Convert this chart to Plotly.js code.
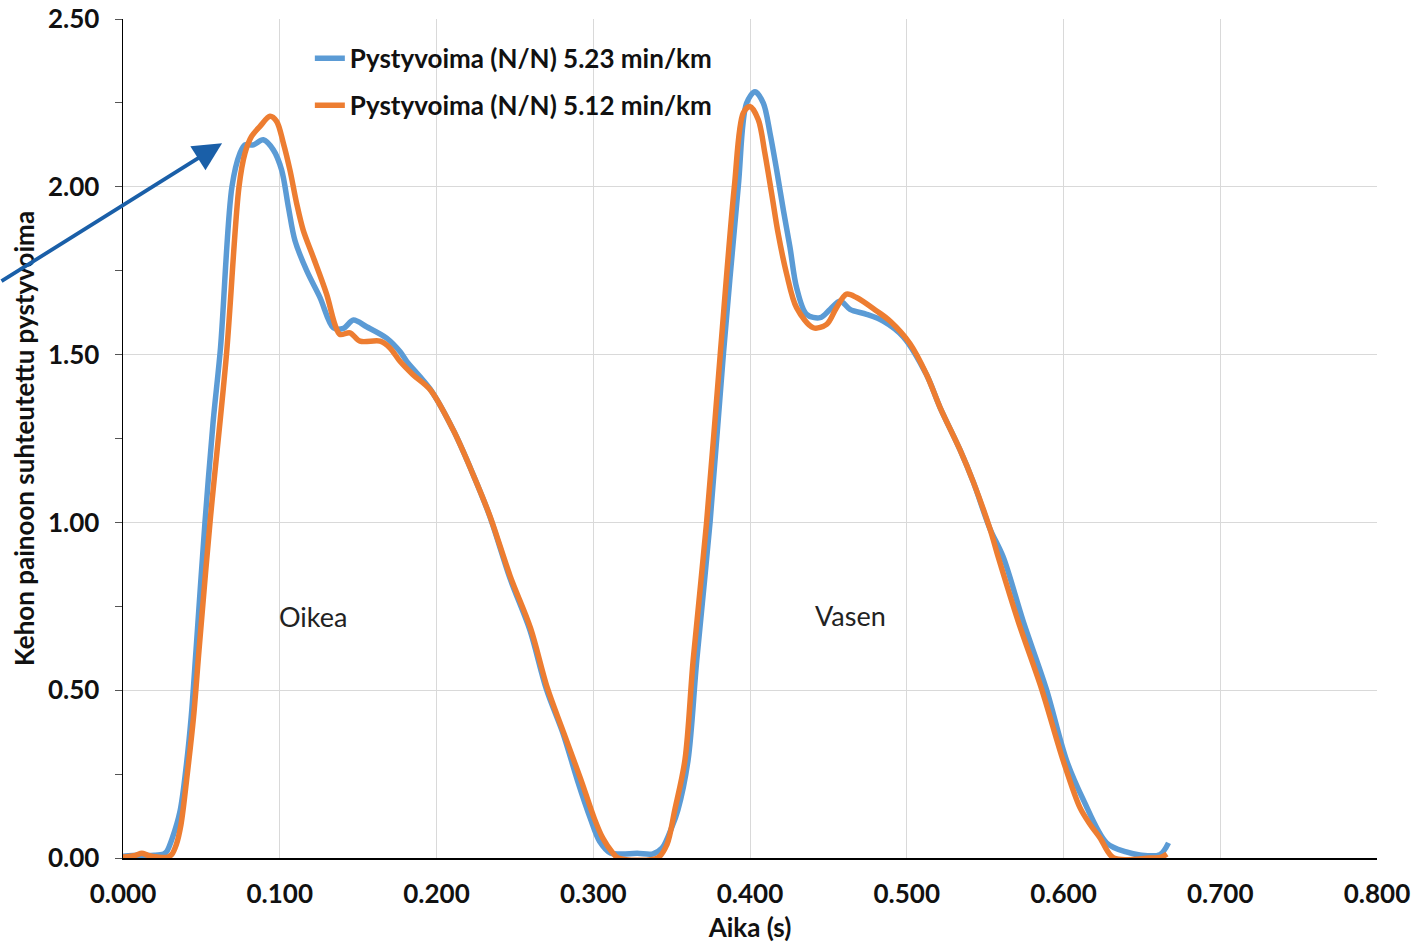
<!DOCTYPE html>
<html>
<head>
<meta charset="utf-8">
<script src="https://cdn.plot.ly/plotly-3.0.1.min.js"></script>
<style>html,body{margin:0;padding:0;background:#fff;}#chart{width:1426px;height:947px;}</style>
</head>
<body>
<div id="chart"></div>
<script>
// Series 1: Pystyvoima (N/N) 5.23 min/km
var timeA = [0.000,0.010,0.020,0.026,0.028,0.0315,0.0364,0.0405,0.0435,0.0466,0.0523,0.0575,0.0622,0.0695,0.0746,0.0778,0.0831,0.0895,0.0959,0.1012,0.1055,0.1097,0.1172,0.1257,0.1342,0.1406,0.1470,0.1554,0.1682,0.1767,0.181,0.196,0.2107,0.2235,0.234,0.2469,0.2596,0.2701,0.2808,0.2900,0.2980,0.3040,0.3110,0.3180,0.3280,0.3380,0.3440,0.3500,0.3540,0.3605,0.3660,0.3745,0.3830,0.3925,0.3978,0.4032,0.4085,0.4128,0.4170,0.4213,0.4255,0.4297,0.4361,0.4447,0.4511,0.4575,0.4638,0.4744,0.4850,0.4978,0.5127,0.5212,0.5340,0.5425,0.5530,0.5616,0.5743,0.5890,0.6020,0.6127,0.6275,0.6400,0.6488,0.6615,0.6670];
var forceA = [0.005,0.008,0.008,0.012,0.02,0.06,0.14,0.28,0.42,0.62,1.00,1.30,1.52,2.00,2.10,2.125,2.125,2.14,2.11,2.05,1.94,1.84,1.75,1.67,1.58,1.578,1.603,1.583,1.549,1.509,1.48,1.397,1.275,1.141,1.018,0.833,0.679,0.503,0.37,0.23,0.12,0.05,0.015,0.012,0.014,0.012,0.03,0.09,0.143,0.292,0.588,1.00,1.50,2.00,2.249,2.283,2.249,2.159,2.05,1.93,1.82,1.70,1.62,1.61,1.635,1.66,1.635,1.62,1.60,1.553,1.439,1.343,1.216,1.12,0.982,0.896,0.705,0.504,0.29,0.173,0.045,0.018,0.009,0.01,0.045];

// Series 2: Pystyvoima (N/N) 5.12 min/km
var timeB = [0.000,0.008,0.012,0.016,0.022,0.028,0.031,0.034,0.037,0.041,0.045,0.0485,0.0555,0.066,0.074,0.0778,0.082,0.0874,0.0938,0.098,0.1023,0.1065,0.1108,0.115,0.1214,0.1299,0.1352,0.1384,0.1448,0.1512,0.164,0.1703,0.1767,0.185,0.196,0.2107,0.2235,0.234,0.247,0.260,0.2705,0.281,0.292,0.3005,0.306,0.3125,0.316,0.341,0.347,0.352,0.3585,0.3637,0.3723,0.381,0.390,0.3957,0.400,0.4053,0.4095,0.4138,0.418,0.4234,0.4297,0.4404,0.4489,0.4552,0.4616,0.468,0.4808,0.4893,0.502,0.5127,0.5212,0.534,0.5425,0.553,0.5584,0.5711,0.586,0.5998,0.6105,0.617,0.6233,0.632,0.655,0.662,0.666];
var forceB = [0.003,0.008,0.014,0.008,0.003,0.002,0.01,0.04,0.10,0.25,0.42,0.62,1.00,1.50,2.00,2.10,2.15,2.18,2.21,2.195,2.13,2.05,1.95,1.87,1.79,1.68,1.59,1.56,1.565,1.54,1.54,1.52,1.48,1.44,1.395,1.275,1.141,1.02,0.84,0.685,0.51,0.375,0.235,0.12,0.06,0.015,0.0,0.0,0.04,0.143,0.292,0.588,1.00,1.50,2.00,2.22,2.239,2.20,2.10,1.98,1.86,1.74,1.64,1.58,1.59,1.64,1.68,1.67,1.63,1.60,1.533,1.44,1.343,1.216,1.12,0.982,0.896,0.705,0.504,0.29,0.15,0.10,0.06,0.0,0.0,0.002,0.012];

var seriesNames = ["Pystyvoima (N/N) 5.23 min/km", "Pystyvoima (N/N) 5.12 min/km"];
var xTickVals = [0,0.1,0.2,0.3,0.4,0.5,0.6,0.7,0.8];
var xTickText = ["0.000","0.100","0.200","0.300","0.400","0.500","0.600","0.700","0.800"];
var yTickVals = [0,0.5,1.0,1.5,2.0,2.5];
var yTickText = ["0.00","0.50","1.00","1.50","2.00","2.50"];
var labelTexts = ["Oikea","Vasen"];
var labelX = [0.1212,0.4638];
var labelY = [0.719,0.722];
var arrowTarget = [0.0632, 2.13];

var FONT = "Lato, 'Open Sans', sans-serif";

var traces = [
  {x: timeA, y: forceA, name: seriesNames[0], type: "scatter", mode: "lines", legendgroup: "a",
   line: {color: "#5B9BD5", width: 5.5, shape: "spline", smoothing: 0.9}},
  {x: timeB, y: forceB, name: seriesNames[1], type: "scatter", mode: "lines", legendgroup: "b",
   line: {color: "#ED7D31", width: 5.5, shape: "spline", smoothing: 0.9}}
];

var annotations = labelTexts.map(function(t,i){
  return {x: labelX[i], y: labelY[i], xref: "x", yref: "y", text: t, showarrow: false,
          font: {family: FONT, size: 27, color: "#222"}};
});
annotations.push({
  x: arrowTarget[0], y: arrowTarget[1], xref: "x", yref: "y", text: "",
  showarrow: true, ax: -240, ay: 139, arrowcolor: "#1a5fa8", arrowwidth: 3.8,
  arrowhead: 2, arrowsize: 1.5, standoff: 0
});

var layout = {
  width: 1426, height: 947,
  paper_bgcolor: "#ffffff", plot_bgcolor: "#ffffff",
  margin: {l: 123, r: 49, t: 19, b: 89},
  font: {family: FONT, color: "#111"},
  showlegend: true,
  legend: {x: 0.149, y: 0.981, xanchor: "left", yanchor: "top", bgcolor: "rgba(0,0,0,0)",
           font: {family: FONT, size: 26, color: "#111", weight: "bold"}, tracegroupgap: 10},
  xaxis: {range: [0, 0.8], tickvals: xTickVals, ticktext: xTickText, showgrid: true,
          gridcolor: "#d9d9d9", gridwidth: 1, showline: true, linecolor: "#000", linewidth: 1.5,
          ticks: "", zeroline: false, ticklabelstandoff: 12,
          tickfont: {family: FONT, size: 26, color: "#111", weight: "bold"},
          title: {text: "Aika (s)", font: {family: FONT, size: 26, color: "#111", weight: "bold"}, standoff: 11}},
  yaxis: {range: [0, 2.5], tickvals: yTickVals, ticktext: yTickText, showgrid: true,
          gridcolor: "#d9d9d9", gridwidth: 1, showline: true, linecolor: "#000", linewidth: 1.5,
          ticks: "outside", ticklen: 7, tickcolor: "#555", zeroline: false, ticklabelstandoff: 10,
          minor: {tickvals: [0.25,0.75,1.25,1.75,2.25], ticks: "outside", ticklen: 7, tickcolor: "#555", showgrid: false},
          tickfont: {family: FONT, size: 26, color: "#111", weight: "bold"},
          title: {text: "Kehon painoon suhteutettu pystyvoima", font: {family: FONT, size: 26, color: "#111", weight: "bold"}, standoff: 6}},
  annotations: annotations
};

Plotly.newPlot("chart", traces, layout, {displayModeBar: false, staticPlot: true});
</script>
</body>
</html>
